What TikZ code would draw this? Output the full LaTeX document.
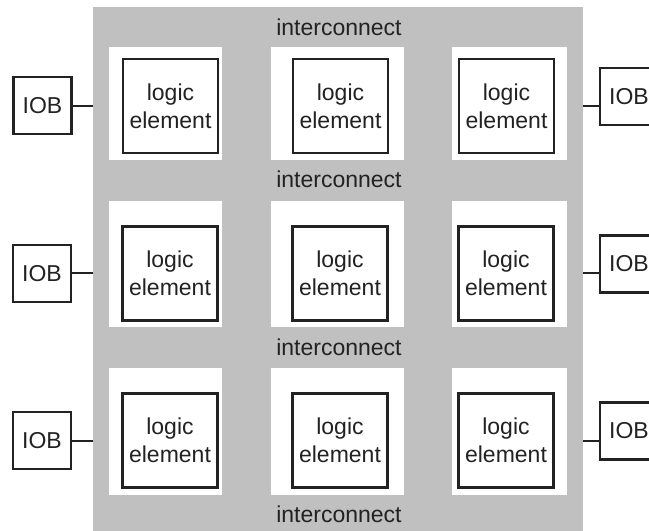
\documentclass[tikz,border=0pt]{standalone}
\usepackage{fontspec}
\setmainfont{Liberation Sans}
\definecolor{icgray}{HTML}{C0C0C0}
\definecolor{ink}{HTML}{222222}
\begin{document}
\begin{tikzpicture}[x=1pt,y=-1pt,
  logicbox/.style={draw=ink,line width=2.4pt,fill=white,minimum width=95pt,minimum height=94pt,inner sep=0pt,align=center,font=\fontsize{23}{28}\selectfont,text=ink},
  iobbox/.style={draw=ink,line width=2.2pt,fill=white,minimum width=58pt,minimum height=57pt,inner sep=0pt,font=\fontsize{23}{28}\selectfont,text=ink},
  iclabel/.style={font=\fontsize{23}{28}\selectfont,text=ink,inner sep=0pt},
  wire/.style={draw=ink,line width=2.2pt}]
\useasboundingbox (0,0) rectangle (649,531);
\clip (0,0) rectangle (649,531);
% interconnect fabric
\fill[icgray] (93,7) rectangle (583,531);
\coordinate (gl1) at (93,106);
\coordinate (gl2) at (93,273);
\coordinate (gl3) at (93,441);
\coordinate (gr1) at (583,106);
\coordinate (gr2) at (583,273);
\coordinate (gr3) at (583,441);
% white cells
\foreach \xa/\xb in {109/222,271/404,452/567}{
  \foreach \ya/\yb in {47/160,201/327,368/495}{
    \fill[white] (\xa,\ya) rectangle (\xb,\yb);
  }
}
% logic elements
\node[logicbox] (le11) at (170.5,106) {logic\\element};
\node[logicbox] (le12) at (340.5,106) {logic\\element};
\node[logicbox] (le13) at (506.5,106) {logic\\element};
\node[logicbox] (le21) at (170,273.5) {logic\\element};
\node[logicbox] (le22) at (340,273.5) {logic\\element};
\node[logicbox] (le23) at (506,273.5) {logic\\element};
\node[logicbox] (le31) at (170,440.5) {logic\\element};
\node[logicbox] (le32) at (340,440.5) {logic\\element};
\node[logicbox] (le33) at (506,440.5) {logic\\element};
% interconnect labels
\node[iclabel] (ic1) at (339,27) {interconnect};
\node[iclabel] (ic2) at (339,179) {interconnect};
\node[iclabel] (ic3) at (339,347) {interconnect};
\node[iclabel] (ic4) at (339,514) {interconnect};
% IOBs
\node[iobbox] (iobl1) at (42.5,105.5) {IOB};
\node[iobbox] (iobl2) at (42,273.5) {IOB};
\node[iobbox] (iobl3) at (42,440.5) {IOB};
\node[iobbox] (iobr1) at (629,96.5) {IOB};
\node[iobbox] (iobr2) at (629,264) {IOB};
\node[iobbox] (iobr3) at (629,431) {IOB};
% wires
\draw[wire] (iobl1.east |- gl1) -- (gl1);
\draw[wire] (iobl2.east |- gl2) -- (gl2);
\draw[wire] (iobl3.east |- gl3) -- (gl3);
\draw[wire] (gr1) -- (iobr1.west |- gr1);
\draw[wire] (gr2) -- (iobr2.west |- gr2);
\draw[wire] (gr3) -- (iobr3.west |- gr3);
\end{tikzpicture}
\end{document}
